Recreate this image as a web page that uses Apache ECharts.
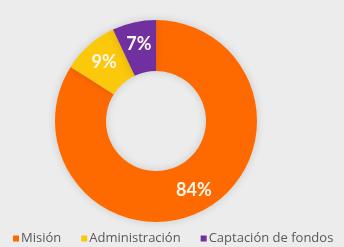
<!DOCTYPE html>
<html>
<head>
<meta charset="utf-8">
<script src="https://cdn.jsdelivr.net/npm/echarts@6/dist/echarts.min.js"></script>
<style>
  html, body { margin: 0; padding: 0; background: #ececec; }
  #chart { width: 344px; height: 247px; }
</style>
</head>
<body>
<div id="chart"></div>
<script>
const categories = ["Misión", "Administración", "Captación de fondos"];
const values = [84, 9, 7];
const colors = ["#ff6a00", "#fcc80c", "#7030a0"];

const chart = echarts.init(document.getElementById("chart"));
chart.setOption({
  backgroundColor: "#ececec",
  color: colors,
  legend: {
    bottom: -3,
    left: 8,
    itemWidth: 6,
    itemHeight: 6,
    itemGap: 20,
    icon: "rect",
    textStyle: { color: "#595959", fontSize: 13, fontFamily: "Open Sans", padding: [0, 0, 0, -3] },
    data: categories
  },
  series: [
    {
      type: "pie",
      center: [156, 121],
      radius: [50, 101],
      startAngle: 90,
      data: categories.map((name, i) => ({ name, value: values[i] })),
      itemStyle: { shadowBlur: 8, shadowColor: "rgba(0,0,0,0.15)" },
      label: {
        show: true,
        position: "inside",
        formatter: "{c}%",
        color: "#fff8ec",
        fontFamily: "Lato",
        fontWeight: "bold",
        fontSize: 18
      },
      labelLine: { show: false },
      emphasis: { disabled: true }
    }
  ]
});
</script>
</body>
</html>
